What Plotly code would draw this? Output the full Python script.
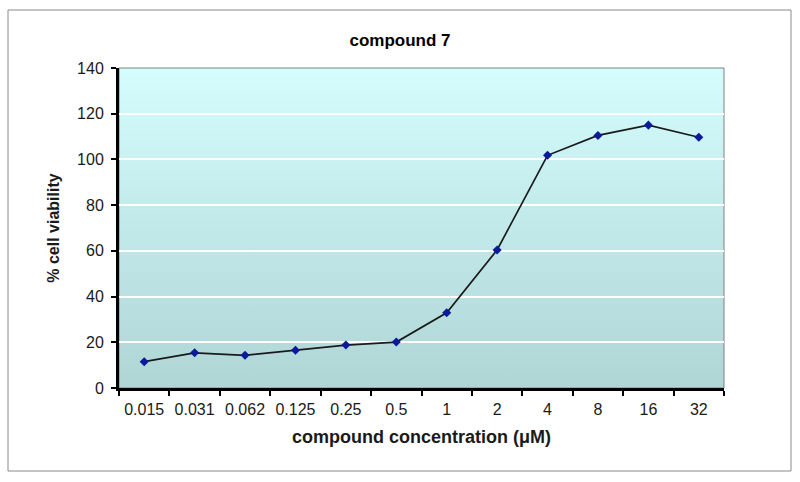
import base64
import plotly.graph_objects as go

concentrations = ["0.015", "0.031", "0.062", "0.125", "0.25", "0.5", "1", "2", "4", "8", "16", "32"]
viability = [11.5, 15.4, 14.3, 16.5, 18.8, 20.1, 32.9, 60.4, 101.8, 110.5, 115.0, 109.7]
y_ticks = [0, 20, 40, 60, 80, 100, 120, 140]

title_text = "compound 7"
x_title = "compound concentration (\u03bcM)"
y_title = "% cell viability"

svg = (
    '<svg xmlns="http://www.w3.org/2000/svg" width="100" height="100" preserveAspectRatio="none">'
    '<defs><linearGradient id="g" x1="0" y1="0" x2="0" y2="1">'
    '<stop offset="0" stop-color="#d5fdfe"/><stop offset="1" stop-color="#afd5d5"/>'
    '</linearGradient></defs><rect width="100" height="100" fill="url(#g)"/></svg>'
)
bg_uri = "data:image/svg+xml;base64," + base64.b64encode(svg.encode()).decode()

fig = go.Figure()
fig.add_trace(go.Scatter(
    x=concentrations, y=viability, mode="lines+markers",
    line=dict(color="#1a1a1a", width=1.7),
    marker=dict(symbol="diamond", size=7, color="#0a1a9a"),
    showlegend=False,
))

font_family = "Liberation Sans, Arial, sans-serif"
fig.update_layout(
    width=800, height=482,
    margin=dict(l=119, r=76, t=68, b=94),
    paper_bgcolor="white",
    plot_bgcolor="rgba(0,0,0,0)",
    font=dict(family=font_family, size=16, color="#1a1a1a"),
    title=dict(text="<b>" + title_text + "</b>", x=0.5, xanchor="center",
               y=1 - 40 / 482, yanchor="middle", font=dict(size=17, color="black")),
    images=[dict(source=bg_uri, xref="paper", yref="paper", x=0, y=1, sizex=1, sizey=1,
                 sizing="stretch", xanchor="left", yanchor="top", layer="below")],
    shapes=[
        dict(type="rect", xref="paper", yref="paper", x0=0, x1=1, y0=0, y1=1,
             line=dict(color="#808080", width=1), layer="below"),
        dict(type="rect", xref="paper", yref="paper",
             x0=(8 - 119) / 605, x1=(791 - 119) / 605,
             y0=(388 - 471) / 320, y1=(388 - 10) / 320,
             line=dict(color="#8a8a8a", width=1)),
    ],
)
fig.update_xaxes(
    type="category", categoryorder="array", categoryarray=concentrations,
    range=[-0.5, len(concentrations) - 0.5],
    showline=True, linecolor="black", linewidth=3,
    ticks="outside", tickson="boundaries", ticklen=5, tickwidth=2, tickcolor="black",
    tickangle=0, ticklabelstandoff=5,
    showgrid=False,
    tickfont=dict(size=16, color="#1a1a1a"),
    title=dict(text="<b>" + x_title + "</b>", font=dict(size=18, color="#1a1a1a"), standoff=14),
)
fig.update_yaxes(
    range=[0, 140], tickvals=y_ticks,
    showline=True, linecolor="black", linewidth=3,
    ticks="outside", ticklen=5, tickwidth=2, tickcolor="black",
    ticklabelstandoff=4,
    showgrid=True, gridcolor="white", gridwidth=1.5,
    zeroline=False,
    tickfont=dict(size=16, color="#1a1a1a"),
    title=dict(text="<b>" + y_title + "</b>", font=dict(size=16, color="#1a1a1a"), standoff=14),
)

fig.write_html("out.html", config={"displayModeBar": False},
               post_script="document.body.style.margin='0';")
